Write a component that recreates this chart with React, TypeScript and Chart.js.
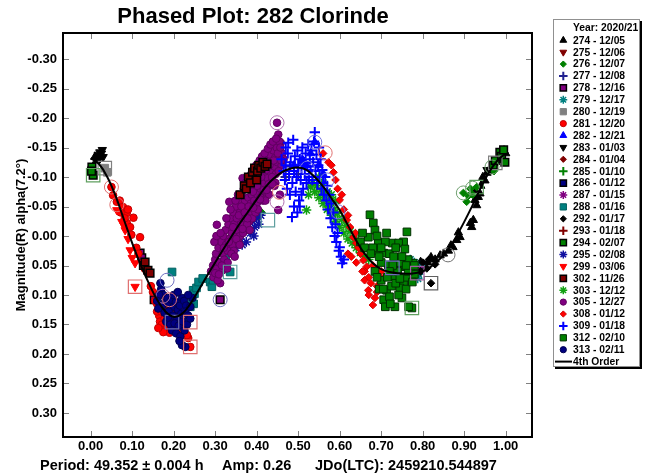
import React, { useEffect, useRef } from 'react';
import { Chart, registerables } from 'chart.js';
import { drawPoint } from 'chart.js/helpers';

Chart.register(...registerables);

type Pt = [number, number];

const FONT = "'Liberation Sans', Arial, Helvetica, sans-serif";

const xTicks = [0, 0.1, 0.2, 0.3, 0.4, 0.5, 0.6, 0.7, 0.8, 0.9, 1.0];
const yTicks = [-0.3, -0.25, -0.2, -0.15, -0.1, -0.05, 0, 0.05, 0.1, 0.15, 0.2, 0.25, 0.3];

const titleText = 'Phased Plot: 282 Clorinde';
const yTitle = 'Magnitude(R) alpha(7.2°)';
const footerParts = ['Period: 49.352 ± 0.004 h', 'Amp: 0.26', 'JDo(LTC): 2459210.544897'];
const legendHeader = 'Year: 2020/21';
const fitLabel = '4th Order';

// 4th order fit curve
const curvePhase = [0, 0.02, 0.04, 0.06, 0.08, 0.1, 0.12, 0.14, 0.16, 0.18, 0.2, 0.22, 0.24, 0.26, 0.28, 0.3, 0.32, 0.34, 0.36, 0.38, 0.4, 0.42, 0.44, 0.46, 0.48, 0.5, 0.52, 0.54, 0.56, 0.58, 0.6, 0.62, 0.64, 0.66, 0.68, 0.7, 0.72, 0.74, 0.76, 0.78, 0.8, 0.82, 0.84, 0.86, 0.88, 0.9, 0.92, 0.94, 0.96, 0.98, 1.0];
const curveMag = [-0.132, -0.122, -0.1, -0.068, -0.028, 0.012, 0.048, 0.08, 0.108, 0.128, 0.137, 0.132, 0.115, 0.092, 0.068, 0.045, 0.022, 0.0, -0.022, -0.042, -0.062, -0.082, -0.097, -0.108, -0.114, -0.116, -0.112, -0.1, -0.084, -0.064, -0.044, -0.018, 0.008, 0.03, 0.046, 0.056, 0.061, 0.063, 0.064, 0.063, 0.06, 0.052, 0.04, 0.024, 0.002, -0.024, -0.052, -0.082, -0.108, -0.128, -0.14];

const s274: Pt[] = [[0.010, -0.134], [0.014, -0.128], [0.795, 0.044], [0.805, 0.052], [0.812, 0.045], [0.820, 0.036], [0.830, 0.040], [0.842, 0.033], [0.850, 0.030], [0.862, 0.025], [0.868, 0.016], [0.873, 0.019], [0.882, 0.007], [0.886, -0.006], [0.890, 0.002], [0.915, -0.022], [0.918, -0.015], [0.922, -0.027], [0.926, -0.061], [0.930, -0.052], [0.934, -0.066], [0.938, -0.072], [0.926, -0.078], [0.940, -0.085], [0.945, -0.100], [0.950, -0.094], [0.955, -0.107], [0.962, -0.110], [0.968, -0.118], [0.979, -0.129], [0.985, -0.133], [0.990, -0.141], [0.996, -0.145], [1.000, -0.140]];
const s275: Pt[] = [[0.185, 0.122], [0.195, 0.140], [0.205, 0.128]];
const s276: Pt[] = [[0.898, -0.073], [0.906, -0.058], [0.910, -0.068], [0.915, -0.080], [0.920, -0.070], [0.930, -0.083], [0.966, -0.117], [0.972, -0.110], [0.405, -0.032], [0.412, -0.040]];
const s277: Pt[] = [[0.470, -0.100], [0.500, -0.105], [0.525, -0.090], [0.480, -0.118]];
const s278: Pt[] = [[0.119, 0.029], [0.123, 0.037], [0.153, 0.108], [0.312, 0.108], [0.786, 0.062]];
const s279: Pt[] = [[0.775, 0.060], [0.780, 0.045], [0.785, 0.055], [0.790, 0.065], [0.795, 0.050], [0.788, 0.072], [0.770, 0.040]];
const s280: Pt[] = [[0.034, -0.115], [0.040, -0.108]];
const s281: Pt[] = [[0.050, -0.083], [0.054, -0.069], [0.063, -0.058], [0.070, -0.060], [0.078, -0.049], [0.087, -0.039], [0.090, -0.045], [0.103, -0.031], [0.087, -0.022], [0.095, -0.015], [0.119, 0.002], [0.110, 0.020], [0.125, 0.045], [0.135, 0.060], [0.150, 0.095], [0.155, 0.110], [0.160, 0.115], [0.165, 0.135], [0.167, 0.145], [0.172, 0.150], [0.178, 0.140], [0.180, 0.158], [0.185, 0.155], [0.190, 0.164], [0.200, 0.155], [0.205, 0.160], [0.213, 0.164], [0.220, 0.150], [0.240, 0.188], [0.160, 0.128], [0.170, 0.128], [0.175, 0.163], [0.163, 0.156], [0.235, 0.173], [0.232, 0.168], [0.072, -0.040], [0.082, -0.030], [0.098, -0.002], [0.115, 0.030], [0.130, 0.055], [0.145, 0.085]];
const s282: Pt[] = [[0.540, -0.159], [0.530, -0.140], [0.510, -0.130], [0.550, -0.120], [0.520, -0.120], [0.560, -0.105], [0.490, -0.120]];
const s283: Pt[] = [[0.018, -0.138], [0.022, -0.142], [0.026, -0.140], [0.030, -0.134], [0.020, -0.130], [0.028, -0.146], [0.955, -0.112], [0.975, -0.122]];
const s284: Pt[] = [[0.330, 0.005], [0.340, 0.020], [0.350, -0.025], [0.360, -0.045], [0.375, -0.060], [0.395, -0.070], [0.410, -0.085], [0.420, -0.095], [0.435, -0.100], [0.450, -0.110]];
const s285: Pt[] = [[0.560, -0.070], [0.590, -0.040], [0.575, -0.050]];
const s286: Pt[] = [[0.727, 0.054], [0.735, 0.048], [0.205, 0.145]];
const s287: Pt[] = [[0.785, 0.060], [0.792, 0.058], [0.200, 0.140]];
const s288: Pt[] = [[0.196, 0.061], [0.247, 0.092], [0.250, 0.098], [0.244, 0.108], [0.248, 0.115], [0.240, 0.120], [0.288, 0.078], [0.292, 0.086], [0.295, 0.075], [0.300, 0.066], [0.307, 0.058], [0.320, 0.044], [0.325, 0.035], [0.330, 0.025], [0.336, 0.061], [0.255, 0.088], [0.260, 0.078], [0.270, 0.072]];
const s292: Pt[] = [[0.820, 0.080], [0.800, 0.045], [0.810, 0.055], [0.795, 0.060], [0.815, 0.040], [0.830, 0.048]];
const s293: Pt[] = [[0.190, 0.108], [0.195, 0.125], [0.205, 0.135], [0.210, 0.145], [0.200, 0.150], [0.215, 0.130]];
const s294: Pt[] = [[0.003, -0.117], [0.006, -0.103], [0.002, -0.110], [0.970, -0.120], [0.975, -0.128], [0.986, -0.142], [0.990, -0.135], [0.995, -0.146], [0.998, -0.125]];
const s295: Pt[] = [[0.350, 0.020], [0.360, 0.005], [0.365, 0.015], [0.370, -0.010], [0.375, 0.010], [0.380, -0.020], [0.385, -0.005], [0.390, -0.025], [0.393, 0.000], [0.395, -0.015], [0.400, -0.030], [0.405, -0.020], [0.410, -0.035]];
const s299: Pt[] = [[0.063, -0.044], [0.075, -0.024], [0.080, -0.018], [0.083, -0.010], [0.090, 0.005], [0.095, 0.024], [0.100, 0.037], [0.107, 0.046], [0.107, 0.086]];
const s302: Pt[] = [[0.127, 0.050], [0.131, 0.044], [0.138, 0.058], [0.143, 0.063], [0.360, -0.070], [0.370, -0.085], [0.375, -0.080], [0.380, -0.100], [0.385, -0.090], [0.390, -0.108], [0.395, -0.115], [0.400, -0.095], [0.402, -0.110], [0.405, -0.120], [0.410, -0.115], [0.415, -0.125], [0.420, -0.118], [0.425, -0.122]];
const s303: Pt[] = [[0.520, -0.044], [0.525, -0.070], [0.530, -0.083], [0.535, -0.090], [0.540, -0.075], [0.545, -0.085], [0.550, -0.065], [0.555, -0.078], [0.560, -0.055], [0.565, -0.068], [0.570, -0.045], [0.575, -0.058], [0.580, -0.035], [0.585, -0.048], [0.590, -0.025], [0.595, -0.038], [0.600, -0.015], [0.605, -0.028], [0.610, -0.005], [0.615, -0.018], [0.620, 0.005], [0.625, -0.008], [0.630, 0.012], [0.635, 0.000], [0.640, 0.020], [0.645, 0.010], [0.650, 0.028], [0.660, 0.035], [0.670, 0.040], [0.550, -0.100], [0.560, -0.090], [0.570, -0.075], [0.580, -0.070], [0.590, -0.060]];
const s305: Pt[] = [[0.290, 0.060], [0.295, 0.050], [0.300, 0.040], [0.302, 0.030], [0.305, 0.055], [0.308, 0.020], [0.310, 0.045], [0.312, 0.080], [0.315, 0.010], [0.318, 0.030], [0.320, 0.000], [0.322, 0.040], [0.325, -0.010], [0.326, 0.015], [0.330, 0.025], [0.332, -0.020], [0.334, -0.058], [0.335, 0.005], [0.338, -0.030], [0.340, -0.005], [0.342, 0.015], [0.344, -0.040], [0.346, -0.020], [0.348, 0.000], [0.350, -0.050], [0.352, -0.030], [0.354, -0.010], [0.356, 0.010], [0.358, -0.060], [0.360, -0.040], [0.362, -0.020], [0.364, -0.070], [0.366, -0.098], [0.368, -0.050], [0.370, -0.030], [0.372, -0.060], [0.374, -0.010], [0.376, -0.080], [0.378, -0.045], [0.380, -0.065], [0.382, -0.025], [0.384, -0.085], [0.386, -0.055], [0.388, -0.070], [0.390, -0.040], [0.392, -0.095], [0.394, -0.060], [0.396, -0.080], [0.398, -0.050], [0.400, -0.100], [0.402, -0.070], [0.404, -0.088], [0.406, -0.060], [0.408, -0.110], [0.410, -0.080], [0.412, -0.095], [0.414, -0.070], [0.416, -0.120], [0.418, -0.090], [0.420, -0.105], [0.422, -0.075], [0.424, -0.130], [0.426, -0.098], [0.428, -0.115], [0.430, -0.085], [0.432, -0.138], [0.434, -0.108], [0.436, -0.125], [0.438, -0.095], [0.440, -0.145], [0.442, -0.118], [0.444, -0.132], [0.446, -0.105], [0.448, -0.150], [0.450, -0.125], [0.452, -0.044], [0.454, -0.140], [0.456, -0.070], [0.458, -0.158], [0.449, -0.192], [0.452, -0.172], [0.455, -0.160], [0.304, -0.019], [0.296, 0.070], [0.300, 0.063], [0.306, 0.075], [0.318, 0.058], [0.330, 0.045], [0.345, 0.025], [0.360, 0.000], [0.370, -0.012], [0.385, -0.035], [0.400, -0.055], [0.415, -0.060], [0.430, -0.070], [0.445, -0.090], [0.460, -0.120], [0.462, -0.140], [0.465, -0.130], [0.298, 0.010], [0.303, 0.000], [0.309, 0.065], [0.313, -0.005], [0.316, 0.050], [0.321, 0.020], [0.327, -0.030], [0.329, 0.055], [0.333, 0.010], [0.337, -0.045], [0.339, 0.030], [0.343, -0.015], [0.347, 0.035], [0.349, -0.060], [0.351, 0.005], [0.355, -0.070], [0.357, -0.035], [0.359, 0.015], [0.363, -0.050], [0.367, -0.005], [0.369, -0.080], [0.371, -0.040], [0.373, -0.090], [0.377, -0.020], [0.379, -0.100], [0.381, -0.050], [0.383, -0.010], [0.387, -0.105], [0.389, -0.030], [0.391, -0.075], [0.393, -0.115], [0.397, -0.040], [0.399, -0.120], [0.401, -0.085], [0.403, -0.045], [0.407, -0.128], [0.409, -0.065], [0.411, -0.100], [0.413, -0.135], [0.417, -0.078], [0.419, -0.140], [0.421, -0.060], [0.423, -0.112], [0.427, -0.148], [0.429, -0.088], [0.431, -0.120], [0.433, -0.155], [0.437, -0.100], [0.439, -0.160], [0.441, -0.128], [0.443, -0.085], [0.447, -0.165], [0.451, -0.140], [0.453, -0.110], [0.457, -0.150], [0.459, -0.128], [0.366, -0.012], [0.378, -0.030], [0.392, -0.048], [0.408, -0.062], [0.424, -0.078], [0.438, -0.088]];
const s308: Pt[] = [[0.560, -0.140], [0.573, -0.125], [0.585, -0.108], [0.580, -0.120], [0.590, -0.095], [0.595, -0.080], [0.600, -0.061], [0.605, -0.070], [0.610, -0.045], [0.617, -0.027], [0.620, -0.035], [0.625, -0.015], [0.633, 0.002], [0.638, -0.005], [0.640, 0.012], [0.645, 0.020], [0.650, 0.030], [0.657, 0.041], [0.665, 0.052], [0.620, 0.030], [0.628, 0.035], [0.660, 0.060], [0.670, 0.070], [0.675, 0.080], [0.669, 0.092], [0.680, 0.117], [0.685, 0.105], [0.690, 0.085], [0.695, 0.070], [0.700, 0.060], [0.680, 0.050], [0.660, 0.075], [0.655, 0.060], [0.640, 0.045], [0.670, 0.100], [0.690, 0.095], [0.700, 0.075], [0.710, 0.068]];
const s309: Pt[] = [[0.460, -0.130], [0.465, -0.110], [0.468, -0.095], [0.470, -0.120], [0.473, -0.080], [0.475, -0.140], [0.478, -0.105], [0.480, -0.070], [0.482, -0.125], [0.485, -0.032], [0.486, -0.090], [0.488, -0.163], [0.490, -0.050], [0.490, -0.110], [0.492, -0.135], [0.494, -0.075], [0.496, -0.100], [0.498, -0.145], [0.500, -0.120], [0.502, -0.060], [0.504, -0.130], [0.506, -0.095], [0.508, -0.115], [0.510, -0.150], [0.512, -0.080], [0.514, -0.125], [0.516, -0.105], [0.518, -0.140], [0.520, -0.090], [0.522, -0.118], [0.524, -0.155], [0.526, -0.100], [0.528, -0.130], [0.530, -0.112], [0.532, -0.145], [0.534, -0.095], [0.536, -0.125], [0.538, -0.160], [0.540, -0.176], [0.542, -0.110], [0.544, -0.138], [0.546, -0.090], [0.548, -0.120], [0.550, -0.150], [0.552, -0.100], [0.554, -0.130], [0.556, -0.080], [0.558, -0.112], [0.560, -0.090], [0.562, -0.070], [0.565, -0.100], [0.568, -0.060], [0.570, -0.085], [0.572, -0.045], [0.575, -0.070], [0.578, -0.030], [0.580, -0.055], [0.582, -0.015], [0.585, -0.040], [0.588, 0.000], [0.590, -0.020], [0.592, 0.010], [0.595, -0.005], [0.598, 0.025], [0.600, 0.019], [0.603, 0.035], [0.606, 0.046], [0.610, 0.040], [0.504, -0.050], [0.498, -0.040], [0.508, -0.070], [0.470, -0.150], [0.476, -0.158]];
const s312: Pt[] = [[0.673, -0.036], [0.681, -0.022], [0.685, -0.010], [0.713, -0.005], [0.762, -0.007], [0.754, 0.010], [0.727, 0.012], [0.742, 0.012], [0.669, 0.002], [0.693, 0.012], [0.690, 0.025], [0.706, 0.029], [0.738, 0.036], [0.717, 0.049], [0.754, 0.052], [0.770, 0.054], [0.730, 0.069], [0.754, 0.080], [0.745, 0.088], [0.713, 0.092], [0.706, 0.108], [0.720, 0.103], [0.750, 0.105], [0.733, 0.120], [0.774, 0.122], [0.777, 0.046], [0.700, 0.045], [0.720, 0.030], [0.740, 0.060], [0.760, 0.070], [0.725, 0.085], [0.700, 0.075], [0.685, 0.060], [0.765, 0.040], [0.780, 0.065], [0.735, 0.020], [0.710, 0.010], [0.745, 0.045], [0.695, 0.035], [0.680, 0.020], [0.757, 0.022], [0.728, 0.050], [0.715, 0.070], [0.760, 0.090], [0.775, 0.078], [0.695, 0.090], [0.710, 0.120], [0.766, 0.120], [0.650, 0.010], [0.660, 0.020], [0.655, -0.005], [0.675, 0.030], [0.690, 0.000], [0.700, 0.020], [0.720, 0.060], [0.735, 0.080], [0.750, 0.035], [0.765, 0.060], [0.742, 0.100], [0.722, 0.115], [0.705, 0.090], [0.690, 0.070], [0.745, 0.072], [0.730, 0.035], [0.760, 0.050], [0.780, 0.050]];
const s313: Pt[] = [[0.170, 0.090], [0.175, 0.100], [0.168, 0.080], [0.180, 0.110], [0.172, 0.118], [0.185, 0.105], [0.190, 0.115], [0.195, 0.108], [0.200, 0.120], [0.205, 0.112], [0.210, 0.125], [0.215, 0.118], [0.220, 0.105], [0.225, 0.110], [0.230, 0.118], [0.178, 0.130], [0.188, 0.128], [0.198, 0.135], [0.208, 0.140], [0.218, 0.132], [0.228, 0.128], [0.235, 0.135], [0.182, 0.145], [0.192, 0.150], [0.202, 0.148], [0.212, 0.152], [0.222, 0.145], [0.232, 0.150], [0.196, 0.160], [0.206, 0.165], [0.216, 0.170], [0.226, 0.160], [0.228, 0.188], [0.220, 0.185], [0.214, 0.178], [0.186, 0.138], [0.240, 0.120], [0.245, 0.105], [0.165, 0.100], [0.160, 0.110], [0.163, 0.123], [0.200, 0.100], [0.210, 0.095], [0.235, 0.100], [0.240, 0.140]];

// circled and boxed points (highlight marks)
const ringCircles: Pt[] = [[0.050, -0.083], [0.063, -0.053], [0.184, 0.075], [0.174, 0.102], [0.190, 0.108], [0.312, 0.108], [0.449, -0.192], [0.565, -0.141], [0.540, -0.159], [0.522, -0.115], [0.570, -0.095], [0.596, -0.041], [0.455, -0.074], [0.449, -0.058], [0.898, -0.073], [0.920, -0.081], [0.861, 0.032], [0.967, -0.117]];
const ringCircleColors = ['#e07070', '#e07070', '#7070c0', '#b070b0', '#e07070', '#7070c0', '#b070b0', '#e07070', '#7070e0', '#7070e0', '#7070e0', '#7070e0', '#e07070', '#b070b0', '#70a070', '#70a070', '#707070', '#70a070'];
const ringBoxes: Pt[] = [[0.034, -0.115], [0.006, -0.103], [0.107, 0.086], [0.240, 0.188], [0.196, 0.146], [0.240, 0.146], [0.336, 0.061], [0.427, -0.027], [0.820, 0.080], [0.774, 0.122], [0.727, 0.054], [0.787, 0.063], [0.930, -0.083], [0.975, -0.124]];
const ringBoxColors = ['#808080', '#60a060', '#e07070', '#e07070', '#7070b0', '#e07070', '#60a0a0', '#60a0a0', '#606060', '#60a060', '#7070c0', '#a060a0', '#60a060', '#808080'];

interface SeriesDef {
  label: string;
  data: Pt[];
  fill: string;
  border: string;
  style: string;
  rotation?: number;
  radius: number;
  bw: number;
  top?: boolean;
}

const BLACK = '#000000', MAROON = '#800000', GREEN = '#008000', BLUE = '#0000ff', PURPLE = '#800080', TEAL = '#008080', GRAY = '#808080', RED = '#ff0000', NAVY = '#000080';

const series: SeriesDef[] = [
  { label: '274 - 12/05', data: s274, fill: BLACK, border: BLACK, style: 'triangle', radius: 4.8, bw: 1 },
  { label: '275 - 12/06', data: s275, fill: MAROON, border: MAROON, style: 'triangle', rotation: 180, radius: 4.8, bw: 1 },
  { label: '276 - 12/07', data: s276, fill: GREEN, border: GREEN, style: 'rectRot', radius: 3.8, bw: 1 },
  { label: '277 - 12/08', data: s277, fill: '#202090', border: '#202090', style: 'cross', radius: 5.2, bw: 2 },
  { label: '278 - 12/16', data: s278, fill: PURPLE, border: BLACK, style: 'rect', radius: 5.4, bw: 1.5 },
  { label: '279 - 12/17', data: s279, fill: TEAL, border: TEAL, style: 'star', radius: 4.8, bw: 1.5 },
  { label: '280 - 12/19', data: s280, fill: GRAY, border: GRAY, style: 'rect', radius: 5.4, bw: 1 },
  { label: '281 - 12/20', data: s281, fill: RED, border: '#c00000', style: 'circle', radius: 3.8, bw: 1 },
  { label: '282 - 12/21', data: s282, fill: BLUE, border: BLUE, style: 'triangle', radius: 4.8, bw: 1 },
  { label: '283 - 01/03', data: s283, fill: BLACK, border: BLACK, style: 'triangle', rotation: 180, radius: 4.8, bw: 1 },
  { label: '284 - 01/04', data: s284, fill: MAROON, border: MAROON, style: 'rectRot', radius: 3.8, bw: 1 },
  { label: '285 - 01/10', data: s285, fill: GREEN, border: GREEN, style: 'cross', radius: 5.2, bw: 2 },
  { label: '286 - 01/12', data: s286, fill: NAVY, border: BLACK, style: 'rect', radius: 5.4, bw: 1.5 },
  { label: '287 - 01/15', data: s287, fill: PURPLE, border: PURPLE, style: 'star', radius: 4.8, bw: 1.5 },
  { label: '288 - 01/16', data: s288, fill: TEAL, border: '#006060', style: 'rect', radius: 5.4, bw: 1 },
  { label: '292 - 01/17', data: s292, fill: BLACK, border: BLACK, style: 'rectRot', radius: 3.8, bw: 1 },
  { label: '293 - 01/18', data: s293, fill: MAROON, border: MAROON, style: 'cross', radius: 5.2, bw: 2 },
  { label: '294 - 02/07', data: s294, fill: GREEN, border: BLACK, style: 'rect', radius: 5.4, bw: 1.5 },
  { label: '295 - 02/08', data: s295, fill: NAVY, border: '#1010a0', style: 'star', radius: 4.8, bw: 1.5 },
  { label: '299 - 03/06', data: s299, fill: RED, border: RED, style: 'triangle', rotation: 180, radius: 4.8, bw: 1 },
  { label: '302 - 11/26', data: s302, fill: MAROON, border: BLACK, style: 'rect', radius: 5.4, bw: 1.5, top: true },
  { label: '303 - 12/12', data: s303, fill: GREEN, border: '#10a010', style: 'star', radius: 4.8, bw: 1.5 },
  { label: '305 - 12/27', data: s305, fill: PURPLE, border: '#600060', style: 'circle', radius: 3.8, bw: 1 },
  { label: '308 - 01/12', data: s308, fill: RED, border: '#d00000', style: 'rectRot', radius: 3.8, bw: 1 },
  { label: '309 - 01/18', data: s309, fill: BLUE, border: BLUE, style: 'cross', radius: 5.2, bw: 2 },
  { label: '312 - 02/10', data: s312, fill: GREEN, border: '#003000', style: 'rect', radius: 5.4, bw: 1 },
  { label: '313 - 02/11', data: s313, fill: NAVY, border: '#000050', style: 'circle', radius: 3.8, bw: 1 },
];

const toXY = (pts: Pt[]) => pts.map(([x, y]) => ({ x, y }));

const framePlugin = {
  id: 'framePlugin',
  afterDatasetsDraw(chart: any) {
    const { ctx, chartArea: a, scales } = chart;
    const xs = scales.x, ys = scales.y;
    ctx.save();
    ctx.strokeStyle = '#808080';
    ctx.lineWidth = 1;
    ctx.beginPath();
    for (const v of xTicks) {
      const px = Math.round(xs.getPixelForValue(v)) + 0.5;
      ctx.moveTo(px, a.bottom); ctx.lineTo(px, a.bottom - 6);
      ctx.moveTo(px, a.top); ctx.lineTo(px, a.top + 6);
    }
    for (const v of yTicks) {
      const py = Math.round(ys.getPixelForValue(v)) + 0.5;
      ctx.moveTo(a.left, py); ctx.lineTo(a.left + 6, py);
      ctx.moveTo(a.right, py); ctx.lineTo(a.right - 6, py);
    }
    ctx.stroke();
    ctx.strokeStyle = '#000';
    ctx.lineWidth = 2;
    ctx.strokeRect(a.left, a.top, a.right - a.left, a.bottom - a.top);
    ctx.restore();
  },
  afterDraw(chart: any) {
    const ctx = chart.ctx;
    ctx.save();
    ctx.fillStyle = '#000';
    ctx.textBaseline = 'middle';
    // title
    ctx.font = `bold 22px ${FONT}`;
    ctx.textAlign = 'center';
    ctx.fillText(titleText, 253, 17);
    // footer
    ctx.font = `bold 14.5px ${FONT}`;
    ctx.textAlign = 'left';
    ctx.fillText(footerParts[0], 40, 466);
    ctx.fillText(footerParts[1], 222, 466);
    ctx.fillText(footerParts[2], 315, 466);
    // legend box with shadow
    const lx = 553, ly = 19, lw = 87, lh = 348;
    ctx.fillStyle = '#000';
    ctx.fillRect(lx + 2, ly + 2, lw, lh);
    ctx.fillStyle = '#fff';
    ctx.fillRect(lx, ly, lw, lh);
    ctx.strokeStyle = '#909090';
    ctx.lineWidth = 1;
    ctx.strokeRect(lx + 0.5, ly + 0.5, lw - 1, lh - 1);
    ctx.fillStyle = '#000';
    ctx.font = `bold 10.3px ${FONT}`;
    ctx.fillText(legendHeader, 573, 28.5);
    const step = 11.9;
    series.forEach((s, i) => {
      const y = 40.3 + i * step;
      ctx.save();
      ctx.fillStyle = s.fill;
      ctx.strokeStyle = s.border;
      ctx.lineWidth = s.bw;
      drawPoint(ctx, { pointStyle: s.style, rotation: s.rotation || 0, radius: s.radius * 0.82, borderWidth: s.bw }, 563.3, y);
      ctx.restore();
      ctx.fillStyle = '#000';
      ctx.fillText(s.label, 573, y + 0.5);
    });
    const yf = 40.3 + series.length * step;
    ctx.strokeStyle = '#000';
    ctx.lineWidth = 2;
    ctx.beginPath();
    ctx.moveTo(555, yf);
    ctx.lineTo(572, yf);
    ctx.stroke();
    ctx.fillText(fitLabel, 573, yf + 0.5);
    ctx.restore();
  },
};

export default function App() {
  const ref = useRef<HTMLCanvasElement | null>(null);
  useEffect(() => {
    if (!ref.current) return;
    const datasets: any[] = [];
    datasets.push({
      label: fitLabel,
      data: curvePhase.map((x, i) => ({ x, y: curveMag[i] })),
      showLine: true,
      borderColor: '#000',
      borderWidth: 2,
      pointRadius: 0,
      tension: 0.4,
      fill: false,
      order: 0,
    });
    datasets.push({
      label: 'circled',
      data: toXY(ringCircles),
      pointStyle: 'circle',
      pointRadius: 7,
      backgroundColor: 'rgba(0,0,0,0)',
      borderColor: ringCircleColors,
      pointBorderWidth: 1,
      order: 1,
    });
    datasets.push({
      label: 'boxed',
      data: toXY(ringBoxes),
      pointStyle: 'rect',
      pointRadius: 9.5,
      backgroundColor: 'rgba(0,0,0,0)',
      borderColor: ringBoxColors,
      pointBorderWidth: 1.2,
      order: 1,
    });
    series.forEach((s, i) => {
      datasets.push({
        label: s.label,
        data: toXY(s.data),
        pointStyle: s.style,
        rotation: s.rotation || 0,
        pointRadius: s.radius,
        backgroundColor: s.fill,
        borderColor: s.border,
        pointBorderWidth: s.bw,
        showLine: false,
        order: s.top ? 50 : 100 - i,
      });
    });
    const chart = new Chart(ref.current, {
      type: 'scatter',
      data: { datasets },
      options: {
        animation: false,
        responsive: false,
        events: [],
        layout: { padding: { top: 33, right: 118, left: 0, bottom: 0 } },
        plugins: { legend: { display: false }, tooltip: { enabled: false }, title: { display: false } },
        scales: {
          x: {
            type: 'linear',
            min: -0.0667,
            max: 1.0634,
            afterBuildTicks: (s: any) => { s.ticks = xTicks.map((v) => ({ value: v })); },
            afterFit: (s: any) => { s.height = 39; },
            grid: { display: false, drawTicks: false },
            border: { display: false },
            ticks: {
              color: '#000',
              font: { family: FONT, size: 13, weight: 'bold' },
              padding: 2,
              maxRotation: 0,
              autoSkip: false,
              callback: (v: any) => Number(v).toFixed(2),
            },
          },
          y: {
            type: 'linear',
            reverse: true,
            min: -0.3441,
            max: 0.3407,
            afterBuildTicks: (s: any) => { s.ticks = yTicks.map((v) => ({ value: v })); },
            afterFit: (s: any) => { s.width = 63; },
            grid: { display: false, drawTicks: false },
            border: { display: false },
            ticks: {
              color: '#000',
              font: { family: FONT, size: 13, weight: 'bold' },
              padding: 6,
              autoSkip: false,
              callback: (v: any) => Number(v).toFixed(2),
            },
            title: {
              display: true,
              text: yTitle,
              color: '#000',
              font: { family: FONT, size: 13, weight: 'bold' },
              padding: { top: 14, bottom: 0 },
            },
          },
        },
      } as any,
      plugins: [framePlugin],
    });
    return () => chart.destroy();
  }, []);
  return (
    <div style={{ position: 'fixed', left: 0, top: 0, width: 650, height: 476, background: '#fff' }}>
      <canvas ref={ref} width={650} height={476} style={{ display: 'block', width: 650, height: 476 }} />
    </div>
  );
}
